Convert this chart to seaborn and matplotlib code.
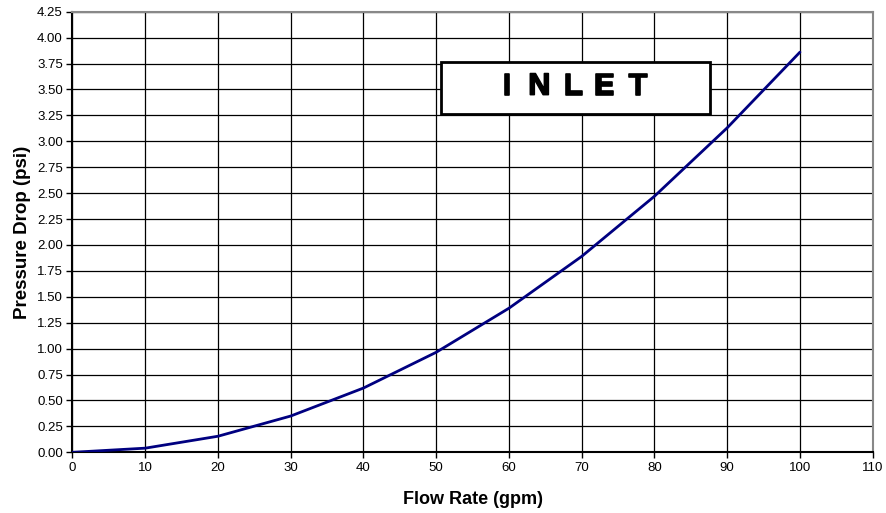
import numpy as np
import pandas as pd
import matplotlib
matplotlib.use("Agg")
import matplotlib.pyplot as plt
import matplotlib.patheffects as pe
import seaborn as sns
from matplotlib.patches import Rectangle

# values
flow_gpm = [0, 10, 20, 30, 40, 50, 60, 70, 80, 90, 100]
pressure_psi = [0.0, 0.04, 0.155, 0.35, 0.62, 0.965, 1.39, 1.89, 2.47, 3.13, 3.86]
x_ticks = list(range(0, 111, 10))
y_ticks = [i * 0.25 for i in range(18)]
title_letters = ["I", "N", "L", "E", "T"]

sns.set_style("white")
plt.rcParams["font.family"] = ["Liberation Sans", "DejaVu Sans"]
plt.rcParams["text.color"] = "black"
plt.rcParams["axes.labelcolor"] = "black"
plt.rcParams["xtick.color"] = "black"
plt.rcParams["ytick.color"] = "black"

df = pd.DataFrame({"Flow Rate (gpm)": flow_gpm, "Pressure Drop (psi)": pressure_psi})

fig = plt.figure(figsize=(8.86, 5.13), dpi=100)
ax = fig.add_axes([0.0818, 0.1183, 0.9032, 0.8589])

sns.lineplot(data=df, x="Flow Rate (gpm)", y="Pressure Drop (psi)", ax=ax,
             color="#000080", linewidth=2, zorder=3)

ax.set_xlim(0, 110)
ax.set_ylim(0, 4.25)
ax.set_xticks(x_ticks)
ax.set_yticks(y_ticks)
ax.set_yticklabels([f"{v:.2f}" for v in y_ticks])
ax.tick_params(axis="both", labelsize=9.5, length=4, width=1, color="black",
               labelcolor="black", direction="out", pad=3)
ax.tick_params(left=True, bottom=True)
ax.grid(True, color="black", linewidth=0.9)

for side in ["left", "bottom"]:
    ax.spines[side].set_color("black")
    ax.spines[side].set_linewidth(1.5)
for side in ["top", "right"]:
    ax.spines[side].set_color("#888888")
    ax.spines[side].set_linewidth(1.5)

ax.set_xlabel("Flow Rate (gpm)", fontsize=13, fontweight="bold", labelpad=12)
ax.set_ylabel("Pressure Drop (psi)", fontsize=13.5, fontweight="bold", labelpad=4)

# INLET box
ax.add_patch(Rectangle((0.460, 0.767), 0.3366, 0.1194, transform=ax.transAxes,
                       facecolor="white", edgecolor="black", linewidth=2, zorder=5))
letter_x = [0.5426, 0.5833, 0.6258, 0.6648, 0.7071]
for ch, lx in zip(title_letters, letter_x):
    ax.text(lx, 0.830, ch, transform=ax.transAxes, ha="center", va="center",
            fontsize=22, fontweight="bold", color="black", zorder=6,
            path_effects=[pe.withStroke(linewidth=1.2, foreground="black")])

plt.savefig("out.png", dpi=100)
plt.close()
